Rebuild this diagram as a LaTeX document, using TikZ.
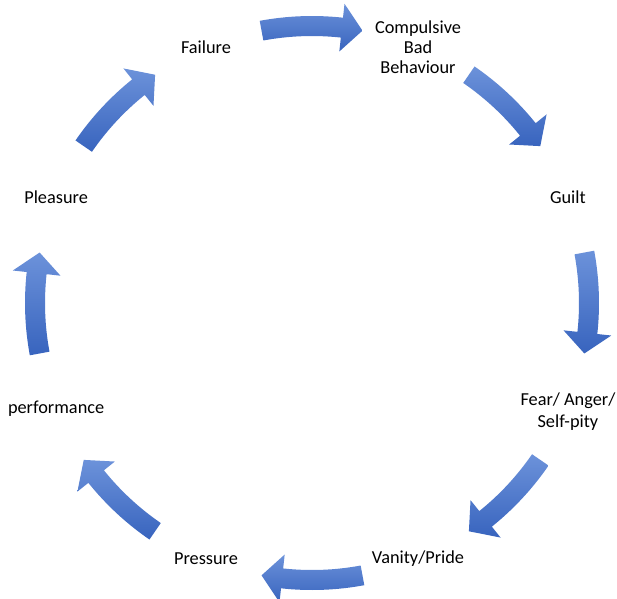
\documentclass[tikz,border=0pt]{standalone}
\usepackage{fontspec}
\setmainfont{Carlito}
\usetikzlibrary{calc}
\definecolor{arrowlight}{RGB}{108,146,218}
\definecolor{arrowdark}{RGB}{56,100,190}
\begin{document}
\begin{tikzpicture}[x=1pt,y=1pt,
  lbl/.style={align=center,inner sep=0pt,font=\fontsize{18.3}{20}\selectfont,text=black},
  cyc/.style={top color=arrowlight,bottom color=arrowdark,draw=none}]
\useasboundingbox (0,-598) rectangle (617,0);
\coordinate (C) at (312,-303);
\node[lbl] (failure)  at ($(C)+(112.5:277)$) {Failure};
\node[lbl] (compul)   at ($(C)+(67.5:277)$)  {Compulsive\\Bad\\Behaviour};
\node[lbl] (guilt)    at ($(C)+(22.5:277)$)  {Guilt};
\node[lbl,font=\fontsize{18.3}{22}\selectfont] (fear) at ($(C)+(-22.5:277)+(0,-3)$) {Fear/ Anger/\\Self-pity};
\node[lbl] (vanity)   at ($(C)+(-67.5:277)$) {Vanity/Pride};
\node[lbl] (pressure) at ($(C)+(-112.5:277)$) {Pressure};
\node[lbl] (perf)     at ($(C)+(-157.5:277)$) {performance};
\node[lbl] (pleasure) at ($(C)+(157.5:277)$) {Pleasure};
\foreach \c in {90,45,0,-45,-90,-135,180,135} {
  \pgfmathsetmacro\sa{\c+10.5}
  \pgfmathsetmacro\ea{\c-10.5}
  \pgfmathsetmacro\ha{\c-6.2}
  \shade[cyc,shift={(C)}] (\sa:267) arc[start angle=\sa,end angle=\ha,radius=267]
    -- (\ha:253) -- (\ea:277) -- (\ha:301) -- (\ha:287)
    arc[start angle=\ha,end angle=\sa,radius=287] -- cycle;
}
\end{tikzpicture}
\end{document}
